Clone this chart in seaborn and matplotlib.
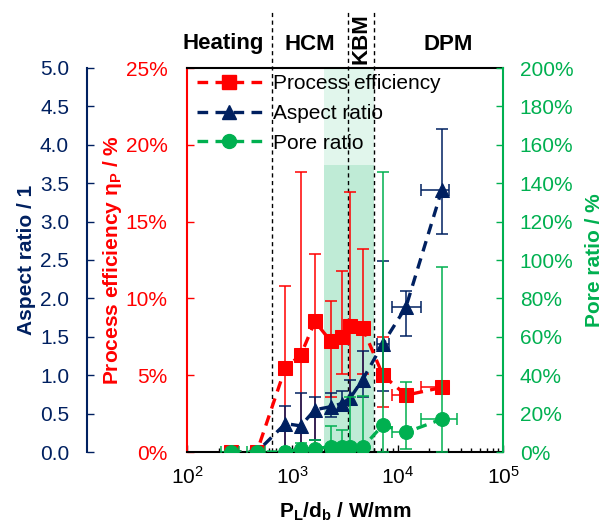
import numpy as np
import pandas as pd
import matplotlib
matplotlib.use("Agg")
import matplotlib.pyplot as plt
import seaborn as sns
from matplotlib.ticker import PercentFormatter, FormatStrFormatter, MultipleLocator, LogLocator, NullFormatter
from matplotlib.lines import Line2D

# ---------------- data ----------------
power = [260, 460, 860, 1200, 1640, 2320, 2930, 3530, 4640, 7240, 12000, 26200]

efficiency = [0, 0, 5.5, 6.3, 8.5, 7.2, 7.5, 8.2, 8.1, 5.0, 3.7, 4.2]
eff_err_up = [0, 0, 5.3, 11.9, 4.4, 2.6, 4.3, 8.7, 5.1, 2.5, 0.4, 0.4]
eff_err_lo = [0, 0, 5.5, 6.3, 8.5, 3.6, 2.4, 5.0, 3.0, 2.1, 0.4, 0.4]
eff_xerr_lo = [0, 0, 0, 0, 0, 0, 0, 0, 0, 0, 3200, 9600]
eff_xerr_hi = [0, 0, 0, 0, 0, 0, 0, 0, 0, 0, 1700, 4400]

aspect = [0, 0, 0.37, 0.34, 0.55, 0.59, 0.63, 0.70, 0.94, 1.41, 1.89, 3.41]
asp_err_up = [0, 0, 0.23, 0.43, 0.16, 0.18, 0.17, 0.24, 0.38, 1.08, 0.21, 0.79]
asp_err_lo = [0, 0, 0.37, 0.34, 0.39, 0.13, 0.08, 0.09, 0.22, 0.61, 0.38, 0.57]
asp_xerr_lo = [0, 0, 0, 0, 0, 0, 0, 0, 0, 830, 3200, 9600]
asp_xerr_hi = [0, 0, 0, 0, 0, 0, 0, 0, 0, 1020, 4500, 4400]

pore = [0, 0, 0, 1.7, 1.7, 2.8, 2.8, 2.8, 2.4, 14.0, 10.2, 17.1]
pore_err_up = [0, 0, 0, 3.0, 4.5, 10.7, 8.6, 26.0, 26.8, 132.0, 26.3, 79.0]
pore_err_lo = [0, 0, 0, 1.7, 1.7, 2.8, 2.8, 2.8, 2.4, 14.0, 8.7, 17.1]
pore_xerr_lo = [50, 90, 60, 0, 0, 0, 0, 0, 0, 0, 3200, 9600]
pore_xerr_hi = [50, 90, 60, 0, 0, 0, 0, 0, 0, 0, 1500, 10600]

boundaries = [641, 3390, 5900]
band = [1990, 5900]
band_dark_top = 18.7
regions = ["Heating", "HCM", "KBM", "DPM"]
series_labels = ["Process efficiency", "Aspect ratio", "Pore ratio"]

df = pd.DataFrame({"power": power, "eff": efficiency, "aspect": aspect, "pore": pore})

RED = "#FF0000"
NAVY = "#002060"
GREEN = "#00B050"

sns.set_theme(style="white")
plt.rcParams["font.family"] = ["Liberation Sans", "DejaVu Sans"]
plt.rcParams["mathtext.fontset"] = "custom"
plt.rcParams["mathtext.rm"] = "Liberation Sans"
plt.rcParams["mathtext.it"] = "Liberation Sans:italic"
plt.rcParams["mathtext.bf"] = "Liberation Sans:bold"
plt.rcParams["text.color"] = "black"
plt.rcParams["axes.labelcolor"] = "black"
plt.rcParams["xtick.color"] = "black"
plt.rcParams["ytick.color"] = "black"

fig = plt.figure(figsize=(6.04, 5.25), dpi=100)
ax = fig.add_axes([187 / 604, 1 - 452 / 525, 316 / 604, 384 / 525])
ax.set_xscale("log")
ax.set_xlim(100, 1e5)
ax.set_ylim(0, 25)
ax2 = ax.twinx()
ax2.set_ylim(0, 5)
ax3 = ax.twinx()
ax3.set_ylim(0, 200)

# shaded band
ax.axvspan(band[0], band[1], color="#E1F6EC", lw=0, zorder=0)
ax.fill_between(band, 0, band_dark_top, color="#BFEBD6", lw=0, zorder=0.5)

# dashed boundaries, extended above the axes
for b in boundaries:
    ax.plot([b, b], [0, 1.152], transform=ax.get_xaxis_transform(), color="black",
            lw=1, linestyle=(0, (3, 2.5)), clip_on=False, zorder=1)

dash = (0, (3.2, 2.2))
MS = 10


def draw_errors(axis, yvals, lo, hi, xlo, xhi, color):
    x = np.array(power, float)
    y = np.array(yvals, float)
    lo = np.array(lo, float); hi = np.array(hi, float)
    xlo = np.array(xlo, float); xhi = np.array(xhi, float)
    m = (lo + hi) > 0
    if m.any():
        axis.errorbar(x[m], y[m], yerr=[lo[m], hi[m]], fmt="none", ecolor=color,
                      elinewidth=1.1, capsize=4.5, capthick=1.1, zorder=2)
    m = (xlo + xhi) > 0
    if m.any():
        axis.errorbar(x[m], y[m], xerr=[xlo[m], xhi[m]], fmt="none", ecolor=color,
                      elinewidth=1.1, capsize=4.5, capthick=1.1, zorder=2)


draw_errors(ax, efficiency, eff_err_lo, eff_err_up, eff_xerr_lo, eff_xerr_hi, RED)
sns.lineplot(data=df, x="power", y="eff", ax=ax, color=RED, marker="s", markersize=MS,
             markeredgecolor=RED, linestyle=dash, lw=2.4, legend=False, zorder=3)

draw_errors(ax2, aspect, asp_err_lo, asp_err_up, asp_xerr_lo, asp_xerr_hi, NAVY)
sns.lineplot(data=df, x="power", y="aspect", ax=ax2, color=NAVY, marker="^", markersize=MS + 0.5,
             markeredgecolor=NAVY, linestyle=dash, lw=2.4, legend=False, zorder=3)

draw_errors(ax3, pore, pore_err_lo, pore_err_up, pore_xerr_lo, pore_xerr_hi, GREEN)
sns.lineplot(data=df, x="power", y="pore", ax=ax3, color=GREEN, marker="o", markersize=MS,
             markeredgecolor=GREEN, linestyle=dash, lw=2.4, legend=False, zorder=3)

for a in (ax, ax2, ax3):
    a.set_xlabel("")
    a.set_ylabel("")
    a.grid(False)
ax.set_xlim(100, 1e5)

# x axis
ax.xaxis.set_major_locator(LogLocator(base=10, numticks=10))
ax.xaxis.set_minor_locator(LogLocator(base=10, subs=np.arange(2, 10), numticks=20))
ax.xaxis.set_minor_formatter(NullFormatter())
ax.tick_params(axis="x", which="major", direction="in", length=5, width=1, color="black",
               labelcolor="black", labelsize=15, pad=10, bottom=True, top=False)
ax.tick_params(axis="x", which="minor", direction="in", length=3, width=1, color="black",
               bottom=True, top=False)
ax.set_xlabel(r"P$_\mathbf{L}$/d$_\mathbf{b}$ / W/mm", fontsize=15, fontweight="bold",
              color="black", labelpad=9)

# red axis
ax.yaxis.set_major_locator(MultipleLocator(5))
ax.yaxis.set_major_formatter(PercentFormatter(decimals=0))
ax.tick_params(axis="y", direction="in", length=5, width=1, colors=RED, labelsize=15, pad=14,
               left=True, right=False)
ax.set_ylabel(r"Process efficiency η$_\mathbf{P}$ / %", fontsize=15, fontweight="bold", color=RED)
ax.yaxis.set_label_coords(-0.200, 0.5)

# navy axis
ax2.yaxis.set_ticks_position("left")
ax2.yaxis.set_label_position("left")
ax2.spines["left"].set_visible(True)
ax2.spines["left"].set_position(("axes", -0.316))
ax2.spines["left"].set_color(NAVY)
ax2.spines["left"].set_linewidth(1.5)
ax2.spines["right"].set_visible(False)
ax2.yaxis.set_major_locator(MultipleLocator(0.5))
ax2.yaxis.set_major_formatter(FormatStrFormatter("%.1f"))
ax2.tick_params(axis="y", direction="in", length=5, width=1, colors=NAVY, labelsize=15, pad=13)
ax2.set_ylabel("Aspect ratio / 1", fontsize=15, fontweight="bold", color=NAVY)
ax2.yaxis.set_label_coords(-0.478, 0.5)

# green axis
ax3.yaxis.set_major_locator(MultipleLocator(20))
ax3.yaxis.set_major_formatter(PercentFormatter(decimals=0))
ax3.tick_params(axis="y", direction="in", length=5, width=1, colors=GREEN, labelsize=15, pad=12)
ax3.spines["left"].set_visible(False)
ax3.spines["right"].set_color(GREEN)
ax3.spines["right"].set_linewidth(1.5)
ax3.set_ylabel("Pore ratio / %", fontsize=15, fontweight="bold", color=GREEN)
ax3.yaxis.set_label_coords(1.258, 0.5)

ax.spines["left"].set_color(RED)
ax.spines["left"].set_linewidth(1.5)
ax.spines["right"].set_visible(False)
ax.spines["top"].set_color("black")
ax.spines["bottom"].set_color("black")
ax.spines["top"].set_linewidth(1.5)
ax.spines["bottom"].set_linewidth(1.5)
for a in (ax2, ax3):
    a.spines["top"].set_visible(False)
    a.spines["bottom"].set_visible(False)

# region labels
fig.text(223 / 604, 1 - 44 / 525, regions[0], fontsize=16, fontweight="bold", ha="center", va="center")
fig.text(310 / 604, 1 - 44 / 525, regions[1], fontsize=16, fontweight="bold", ha="center", va="center")
fig.text(361 / 604, 1 - 39 / 525, regions[2], fontsize=16, fontweight="bold", ha="center", va="center",
         rotation=90)
fig.text(448 / 604, 1 - 44 / 525, regions[3], fontsize=16, fontweight="bold", ha="center", va="center")

# legend
handles = [
    Line2D([], [], color=RED, marker="s", markersize=MS, linestyle=dash, lw=2.4),
    Line2D([], [], color=NAVY, marker="^", markersize=MS + 0.5, linestyle=dash, lw=2.4),
    Line2D([], [], color=GREEN, marker="o", markersize=MS, linestyle=dash, lw=2.4),
]
leg = ax3.legend(handles, series_labels, loc="upper left", bbox_to_anchor=(197 / 604, 1 - 74 / 525),
                 bbox_transform=fig.transFigure, frameon=False, fontsize=15, handlelength=3.1,
                 handletextpad=0.55, labelspacing=0.52, borderpad=0, borderaxespad=0)
for t in leg.get_texts():
    t.set_color("black")

fig.savefig("out.png", dpi=100)
